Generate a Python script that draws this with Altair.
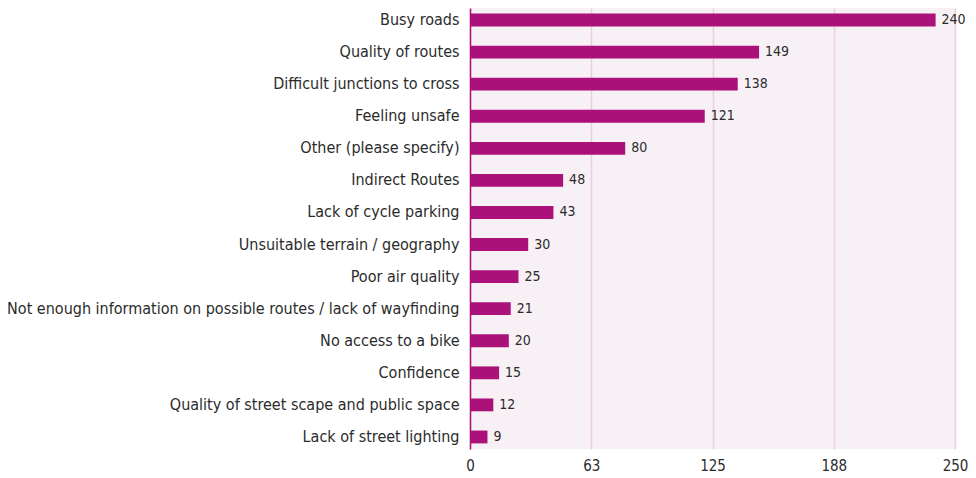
import altair as alt
import pandas as pd

categories = [
    "Busy roads",
    "Quality of routes",
    "Difficult junctions to cross",
    "Feeling unsafe",
    "Other (please specify)",
    "Indirect Routes",
    "Lack of cycle parking",
    "Unsuitable terrain / geography",
    "Poor air quality",
    "Not enough information on possible routes / lack of wayfinding",
    "No access to a bike",
    "Confidence",
    "Quality of street scape and public space",
    "Lack of street lighting",
]
values = [240, 149, 138, 121, 80, 48, 43, 30, 25, 21, 20, 15, 12, 9]
tick_values = [0, 62.5, 125, 187.5, 250]

df = pd.DataFrame({"category": categories, "value": values})

FONT = "'DejaVu Sans Condensed', Roboto, sans-serif"
BAR = "#AA1179"
TEXT = "#2b2b2b"

x = alt.X(
    "value:Q",
    scale=alt.Scale(domain=[0, 250], nice=False, zero=True),
    axis=alt.Axis(
        values=tick_values,
        format=".0f",
        title=None,
        domain=False,
        ticks=False,
        grid=True,
        gridColor="#EACFE3",
        gridWidth=1.5,
        labelFont=FONT,
        labelFontSize=15,
        labelColor=TEXT,
        labelPadding=9,
        labelFlush=False,
    ),
)
y = alt.Y(
    "category:N",
    sort=categories,
    scale=alt.Scale(paddingInner=0.6, paddingOuter=0.175),
    axis=alt.Axis(
        title=None,
        domain=True,
        domainColor=BAR,
        domainWidth=1.5,
        ticks=False,
        grid=False,
        labelFont=FONT,
        labelFontSize=16,
        labelColor=TEXT,
        labelPadding=11,
        labelLimit=0,
    ),
)

bars = alt.Chart(df).mark_bar(color=BAR).encode(x=x, y=y)
labels = alt.Chart(df).mark_text(
    align="left", baseline="middle", dx=6, font=FONT, fontSize=14, color=TEXT
).encode(x="value:Q", y=alt.Y("category:N", sort=categories), text="value:Q")

chart = (
    alt.layer(bars, labels)
    .properties(
        width=485,
        height=441,
        autosize=alt.AutoSizeParams(type="none"),
        padding={"left": 462, "top": 0, "right": 13, "bottom": 30},
        background="white",
    )
    .configure_view(fill="#F7F0F5", stroke=None)
)

chart.save("out.html", embed_options={"renderer": "svg", "actions": False})
